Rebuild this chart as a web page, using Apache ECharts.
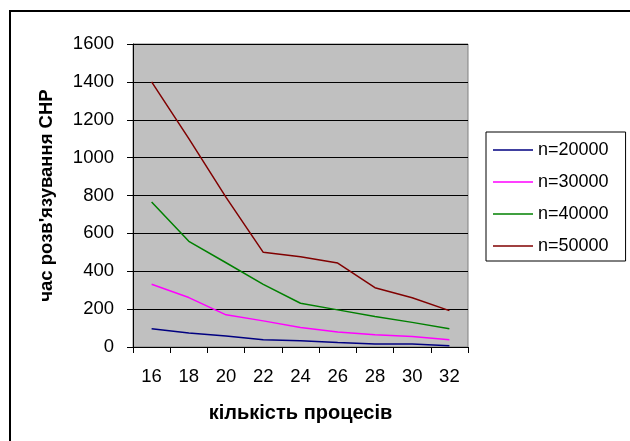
<!DOCTYPE html>
<html>
<head>
<meta charset="utf-8">
<script src="https://cdn.jsdelivr.net/npm/echarts@6/dist/echarts.min.js"></script>
<style>html,body{margin:0;padding:0;background:#fff}#c{width:630px;height:441px}</style>
</head>
<body>
<div id="c"></div>
<script>
var categories = ['16','18','20','22','24','26','28','30','32'];
var seriesNames = ['n=20000','n=30000','n=40000','n=50000'];
var n20000 = [96, 74, 58, 38, 33, 24, 16, 16, 7];
var n30000 = [331, 261, 170, 138, 103, 79, 65, 56, 38];
var n40000 = [766, 558, 445, 331, 231, 196, 161, 130, 96];
var n50000 = [1400, 1100, 790, 500, 477, 443, 313, 260, 192];
var colors = ['#000080', '#FF00FF', '#008000', '#800000'];
var yTicks = {min: 0, max: 1600, interval: 200};

var chart = echarts.init(document.getElementById('c'), null, {renderer: 'canvas'});
var font = 'Liberation Sans, Arial, sans-serif';
var dataSets = [n20000, n30000, n40000, n50000];
chart.setOption({
  animation: false,
  backgroundColor: '#fff',
  textStyle: {fontFamily: font},
  graphic: [{
    type: 'rect', silent: true, z: -10,
    shape: {x: 10, y: 11, width: 660, height: 480},
    style: {fill: 'none', stroke: '#000', lineWidth: 2}
  }],
  grid: {left: 133, top: 44, right: 162, bottom: 94, show: true, backgroundColor: '#C0C0C0', borderColor: '#808080', borderWidth: 1},
  legend: {
    orient: 'vertical', left: 486, top: 132,
    data: seriesNames,
    icon: 'rect', itemWidth: 40, itemHeight: 1.5, itemGap: 12, itemTextGap: 5,
    padding: [8, 17, 5, 7],
    backgroundColor: '#fff', borderColor: '#000', borderWidth: 1, borderRadius: 0,
    textStyle: {fontFamily: font, fontSize: 18, color: '#000', lineHeight: 20}
  },
  xAxis: {
    type: 'category', data: categories, boundaryGap: true,
    name: 'кількість процесів', nameLocation: 'middle', nameGap: 56,
    nameTextStyle: {fontFamily: font, fontSize: 20, fontWeight: 'bold', color: '#000'},
    axisLine: {lineStyle: {color: '#000', width: 1}},
    axisTick: {show: true, inside: false, length: 6, alignWithLabel: false, lineStyle: {color: '#000'}},
    axisLabel: {fontFamily: font, fontSize: 18.5, color: '#000', margin: 20},
    splitLine: {show: false}
  },
  yAxis: {
    type: 'value', min: yTicks.min, max: yTicks.max, interval: yTicks.interval,
    name: 'час розв\'язування СНР', nameLocation: 'middle', nameGap: 77, nameRotate: 90,
    nameTextStyle: {fontFamily: font, fontSize: 18.5, fontWeight: 'bold', color: '#000'},
    axisLine: {show: true, lineStyle: {color: '#000', width: 1}},
    axisTick: {show: true, inside: false, length: 6, lineStyle: {color: '#000'}},
    axisLabel: {fontFamily: font, fontSize: 18.5, color: '#000', margin: 19, formatter: function (v) { return String(v); }},
    splitLine: {show: true, lineStyle: {color: '#000', width: 1}}
  },
  series: seriesNames.map(function (nm, i) {
    return {
      name: nm, type: 'line', data: dataSets[i], showSymbol: false, symbol: 'none',
      lineStyle: {color: colors[i], width: 1.5}, itemStyle: {color: colors[i]}
    };
  })
});
</script>
</body>
</html>
